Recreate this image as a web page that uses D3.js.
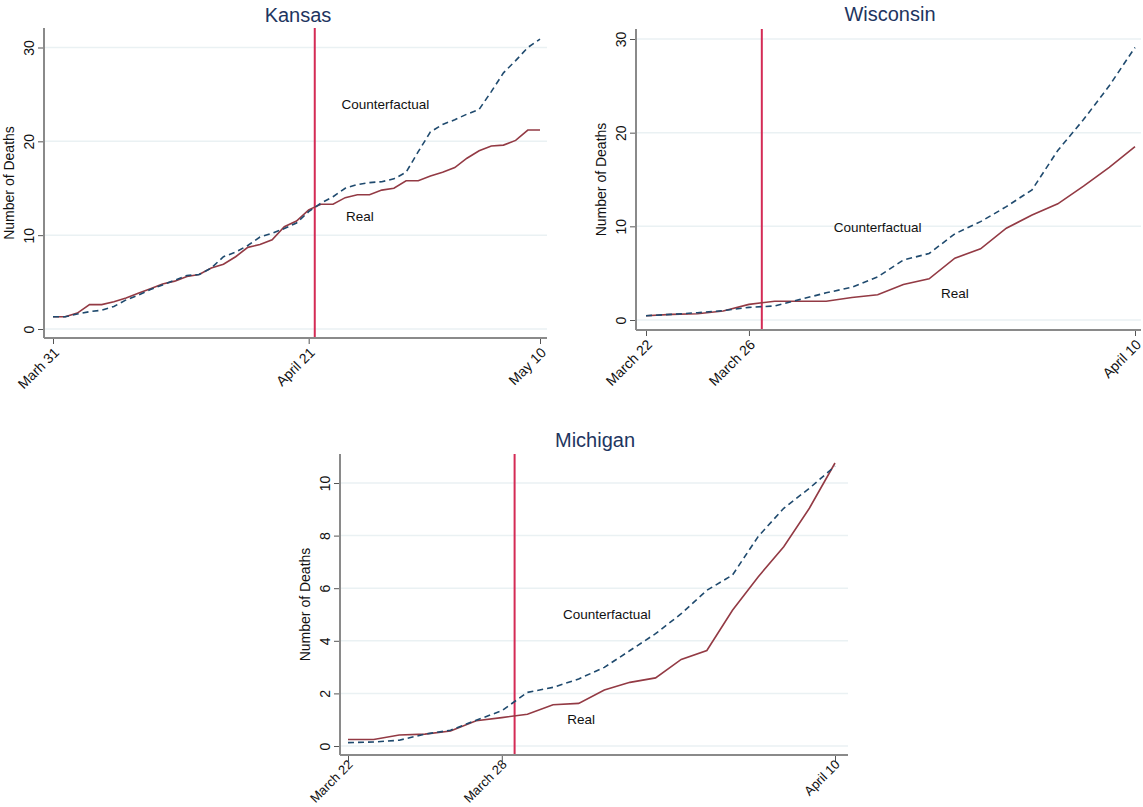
<!DOCTYPE html>
<html>
<head>
<meta charset="utf-8">
<title>Real vs counterfactual deaths</title>
<script src="https://cdnjs.cloudflare.com/ajax/libs/d3/7.8.5/d3.min.js"></script>
<style>
    body { margin: 0; background: #fff; }
    svg text { font-family: "Liberation Sans", Arial, sans-serif; }
</style>
</head>
<body>
<script>
    // Kansas: daily, March 31 .. May 10 (day 0 .. 40)
    var kansasReal = [1.3, 1.3, 1.7, 2.6, 2.6, 2.9, 3.3, 3.8, 4.3, 4.8,
        5.1, 5.6, 5.8, 6.5, 6.9, 7.7, 8.7, 9.0, 9.5, 10.9,
        11.5, 12.7, 13.3, 13.3, 14.0, 14.3, 14.3, 14.8, 15.0, 15.8,
        15.8, 16.3, 16.7, 17.2, 18.2, 19.0, 19.5, 19.6, 20.1, 21.2, 21.2];
    var kansasCounter = [1.3, 1.3, 1.6, 1.85, 2.0, 2.4, 3.1, 3.6, 4.2, 4.7,
        5.2, 5.7, 5.8, 6.5, 7.7, 8.2, 8.9, 9.8, 10.2, 10.7,
        11.3, 12.5, 13.4, 14.1, 15.0, 15.4, 15.6, 15.7, 16.0, 16.7,
        18.9, 21.0, 21.8, 22.3, 22.9, 23.4, 25.3, 27.3, 28.6, 30.0, 30.9];
    var kansasTicks = [0, 21, 40];
    var kansasTickLabels = ["Marh 31", "April 21", "May 10"];

    // Wisconsin: daily, March 22 .. April 10 (day 0 .. 19)
    var wisconsinReal = [0.46, 0.6, 0.67, 0.96, 1.67, 2.0, 2.0, 2.0, 2.4, 2.7,
        3.8, 4.4, 6.6, 7.6, 9.8, 11.2, 12.4, 14.3, 16.3, 18.5];
    var wisconsinCounter = [0.46, 0.6, 0.78, 1.0, 1.35, 1.5, 2.2, 2.9, 3.5, 4.6,
        6.4, 7.1, 9.2, 10.5, 12.1, 13.9, 18.1, 21.4, 25.0, 29.1];
    var wisconsinTicks = [0, 4, 19];
    var wisconsinTickLabels = ["March 22", "March 26", "April 10"];

    // Michigan: daily, March 22 .. April 10 (day 0 .. 19)
    var michiganReal = [0.25, 0.25, 0.42, 0.45, 0.57, 0.96, 1.08, 1.21, 1.57, 1.62,
        2.13, 2.42, 2.59, 3.29, 3.63, 5.16, 6.43, 7.58, 9.04, 10.76];
    var michiganCounter = [0.13, 0.15, 0.22, 0.45, 0.6, 0.98, 1.34, 2.04, 2.23, 2.55,
        2.99, 3.63, 4.27, 5.03, 5.92, 6.5, 7.96, 9.04, 9.8, 10.64];
    var michiganTicks = [0, 6, 19];
    var michiganTickLabels = ["March 22", "March 28", "April 10"];

    var yTicks30 = [0, 10, 20, 30];
    var yTicks10 = [0, 2, 4, 6, 8, 10];

    var w = 1143;
    var h = 807;

    var svg = d3.select("body")
            .append("svg")
            .attr("width", w)
            .attr("height", h);

    var panels = [
        {title: "Kansas", real: kansasReal, cf: kansasCounter,
            xTicks: kansasTicks, xLabels: kansasTickLabels, yTicks: yTicks30,
            xDom: [0, 40], xRange: [53, 540], yDom: [0, 30], yRange: [329, 47.5],
            box: {l: 44, r: 547, t: 28, b: 338}, labelShift: "translate(3,12)", labelSize: "14px",
            event: 21.5, cfText: [27.3, 24], realText: [25.2, 12], titleX: 298, titleY: 22},
        {title: "Wisconsin", real: wisconsinReal, cf: wisconsinCounter,
            xTicks: wisconsinTicks, xLabels: wisconsinTickLabels, yTicks: yTicks30,
            xDom: [0, 19], xRange: [646, 1135], yDom: [0, 30], yRange: [320, 39],
            box: {l: 636, r: 1141, t: 29, b: 330}, labelShift: "translate(3,12)", labelSize: "14px",
            event: 4.5, cfText: [9, 9.9], realText: [12, 2.9], titleX: 890, titleY: 21},
        {title: "Michigan", real: michiganReal, cf: michiganCounter,
            xTicks: michiganTicks, xLabels: michiganTickLabels, yTicks: yTicks10,
            xDom: [0, 19], xRange: [348, 835], yDom: [0, 10], yRange: [746, 483],
            box: {l: 340, r: 848, t: 454, b: 755}, labelShift: "translate(2,7)", labelSize: "13px",
            event: 6.5, cfText: [10.1, 5], realText: [9.1, 1], titleX: 595, titleY: 447}
    ];

    panels.forEach(function(p) {
        var x = d3.scaleLinear().domain(p.xDom).range(p.xRange);
        var y = d3.scaleLinear().domain(p.yDom).range(p.yRange);
        var g = svg.append("g");

        // grid
        g.selectAll("line.grid")
                .data(p.yTicks)
                .enter()
                .append("line")
                .attr("x1", p.box.l)
                .attr("x2", p.box.r)
                .attr("y1", function(d) { return y(d); })
                .attr("y2", function(d) { return y(d); })
                .attr("stroke", "#eaf1f3")
                .attr("stroke-width", 1.5);

        // vertical intervention line
        g.append("line")
                .attr("x1", x(p.event))
                .attr("x2", x(p.event))
                .attr("y1", p.box.t)
                .attr("y2", p.box.b)
                .attr("stroke", "#d42b55")
                .attr("stroke-width", 2);

        var line = d3.line()
                .x(function(d, i) { return x(i); })
                .y(function(d) { return y(d); });

        g.append("path")
                .datum(p.real)
                .attr("d", line)
                .attr("fill", "none")
                .attr("stroke", "#933a44")
                .attr("stroke-width", 1.6);

        g.append("path")
                .datum(p.cf)
                .attr("d", line)
                .attr("fill", "none")
                .attr("stroke", "#1f4a6e")
                .attr("stroke-width", 1.6)
                .attr("stroke-dasharray", "6,4");

        // left axis
        var yAxis = g.append("g")
                .attr("transform", "translate(" + p.box.l + ",0)")
                .call(d3.axisLeft(y).tickValues(p.yTicks).tickSize(6).tickFormat(d3.format("d")));
        yAxis.select(".domain").remove();
        yAxis.append("line")
                .attr("x1", 0).attr("x2", 0)
                .attr("y1", p.box.t).attr("y2", p.box.b)
                .attr("stroke", "#8a8a8a").attr("stroke-width", 2);
        yAxis.selectAll(".tick line").attr("stroke", "#555");
        yAxis.selectAll(".tick text")
                .attr("transform", "rotate(-90)")
                .attr("x", 0)
                .attr("y", -10)
                .attr("dy", 0)
                .attr("text-anchor", "middle")
                .attr("fill", "#111")
                .attr("font-size", "14px");

        // bottom axis
        var xAxis = g.append("g")
                .attr("transform", "translate(0," + p.box.b + ")")
                .call(d3.axisBottom(x).tickValues(p.xTicks).tickSize(6)
                        .tickFormat(function(d, i) { return p.xLabels[i]; }));
        xAxis.select(".domain").remove();
        xAxis.append("line")
                .attr("x1", p.box.l).attr("x2", p.box.r)
                .attr("y1", 0).attr("y2", 0)
                .attr("stroke", "#8a8a8a").attr("stroke-width", 2);
        xAxis.selectAll(".tick line").attr("stroke", "#555");
        xAxis.selectAll(".tick text")
                .attr("x", 0)
                .attr("y", 0)
                .attr("dy", "0.35em")
                .attr("transform", p.labelShift + " rotate(-45)")
                .attr("text-anchor", "end")
                .attr("fill", "#111")
                .attr("font-size", p.labelSize);

        // axis title
        var midY = (p.box.t + p.box.b) / 2;
        g.append("text")
                .text("Number of Deaths")
                .attr("transform", "translate(" + (p.box.l - 30) + "," + midY + ") rotate(-90)")
                .attr("text-anchor", "middle")
                .attr("font-size", "14px")
                .attr("fill", "#111");

        // title
        g.append("text")
                .text(p.title)
                .attr("x", p.titleX)
                .attr("y", p.titleY)
                .attr("text-anchor", "middle")
                .attr("font-size", "20px")
                .attr("fill", "#1e3560");

        // line labels
        g.append("text")
                .text("Counterfactual")
                .attr("x", x(p.cfText[0]))
                .attr("y", y(p.cfText[1]))
                .attr("dy", "0.35em")
                .attr("text-anchor", "middle")
                .attr("font-size", "13.5px")
                .attr("fill", "#111");
        g.append("text")
                .text("Real")
                .attr("x", x(p.realText[0]))
                .attr("y", y(p.realText[1]))
                .attr("dy", "0.35em")
                .attr("text-anchor", "middle")
                .attr("font-size", "13.5px")
                .attr("fill", "#111");
    });
</script>
</body>
</html>
